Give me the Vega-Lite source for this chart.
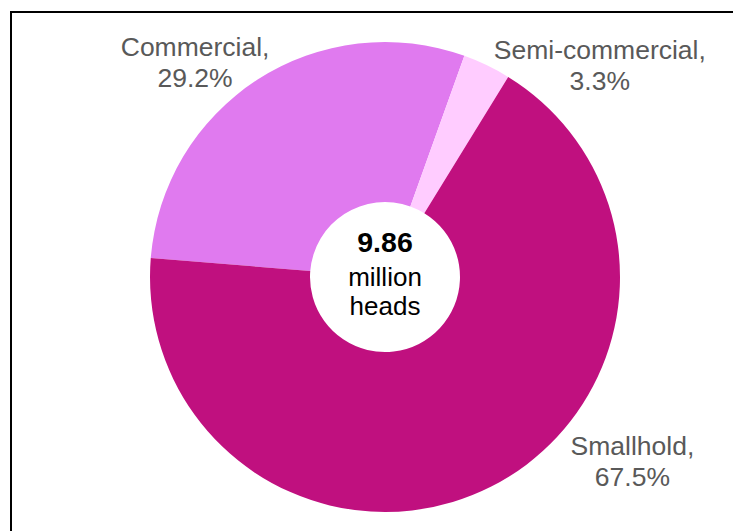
{
  "$schema": "https://vega.github.io/schema/vega-lite/v6.json",
  "width": 748,
  "height": 530,
  "autosize": "none",
  "padding": {"left": 11, "top": 12, "right": -26, "bottom": -11},
  "background": "white",
  "view": {"stroke": "black", "strokeWidth": 2, "fill": "white"},
  "config": {
    "text": {"font": "Liberation Sans"}
  },
  "data": {
    "values": [
      {"segment": "Commercial", "share": 29.2, "label": ["Commercial,", "29.2%"]},
      {"segment": "Semi-commercial", "share": 3.3, "label": ["Semi-commercial,", "3.3%"]},
      {"segment": "Smallhold", "share": 67.5, "label": ["Smallhold,", "67.5%"]}
    ]
  },
  "layer": [
    {
      "mark": {"type": "arc", "outerRadius": 235, "innerRadius": 75},
      "encoding": {
        "theta": {"field": "share", "type": "quantitative", "stack": true, "scale": {"range": [4.793, 11.076]}},
        "color": {
          "field": "segment",
          "type": "nominal",
          "scale": {"domain": ["Commercial", "Semi-commercial", "Smallhold"], "range": ["#E07AEF", "#FFCCFF", "#C0107F"]},
          "legend": null
        }
      }
    },
    {
      "mark": {"type": "text", "radius": 295, "fontSize": 26.5, "lineHeight": 31, "color": "#595959", "align": "center", "baseline": "middle", "dx": -30, "dy": 19},
      "encoding": {
        "theta": {"field": "share", "type": "quantitative", "stack": true},
        "detail": {"field": "segment"},
        "text": {"condition": {"test": "datum.segment === 'Commercial'", "field": "label"}, "value": ""}
      }
    },
    {
      "mark": {"type": "text", "radius": 295, "fontSize": 26.5, "lineHeight": 31, "color": "#595959", "align": "center", "baseline": "middle", "dx": 87, "dy": 40},
      "encoding": {
        "theta": {"field": "share", "type": "quantitative", "stack": true},
        "detail": {"field": "segment"},
        "text": {"condition": {"test": "datum.segment === 'Semi-commercial'", "field": "label"}, "value": ""}
      }
    },
    {
      "mark": {"type": "text", "radius": 295, "fontSize": 26.5, "lineHeight": 31, "color": "#595959", "align": "center", "baseline": "middle", "dx": 114, "dy": -93},
      "encoding": {
        "theta": {"field": "share", "type": "quantitative", "stack": true},
        "detail": {"field": "segment"},
        "text": {"condition": {"test": "datum.segment === 'Smallhold'", "field": "label"}, "value": ""}
      }
    },
    {
      "data": {"values": [{"total": 9.86, "unit": ["million", "heads"]}]},
      "layer": [
        {
          "mark": {"type": "text", "fontSize": 28.5, "fontWeight": "bold", "color": "black", "align": "center", "baseline": "middle", "dy": -34},
          "encoding": {"text": {"field": "total", "type": "quantitative", "format": ".2f"}}
        },
        {
          "mark": {"type": "text", "fontSize": 26, "lineHeight": 29, "color": "black", "align": "center", "baseline": "middle", "dy": 1},
          "encoding": {"text": {"field": "unit"}}
        }
      ]
    }
  ]
}
